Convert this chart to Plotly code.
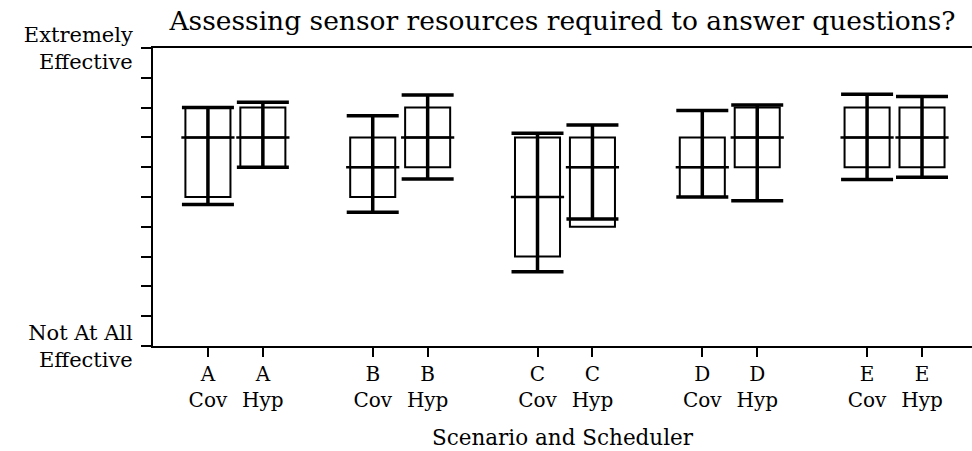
import plotly.graph_objects as go

# ---- data ----
positions = [1, 2, 4, 5, 7, 8, 10, 11, 13, 14]
tick_labels = ["A<br>Cov", "A<br>Hyp", "B<br>Cov", "B<br>Hyp", "C<br>Cov",
               "C<br>Hyp", "D<br>Cov", "D<br>Hyp", "E<br>Cov", "E<br>Hyp"]
q1 = [5, 6, 5, 6, 3, 4, 5, 6, 6, 6]
median = [7, 7, 6, 7, 5, 6, 6, 7, 7, 7]
q3 = [8, 8, 7, 8, 7, 7, 7, 8, 8, 8]
err_low = [4.75, 6.0, 4.49, 5.6, 2.49, 4.26, 5.0, 4.87, 5.59, 5.66]
err_high = [8.0, 8.18, 7.73, 8.42, 7.14, 7.42, 7.9, 8.09, 8.45, 8.37]

y_tickvals = list(range(0, 11))
y_ticktext = ["Not At All<br>Effective"] + [""] * 9 + ["Extremely<br>Effective"]

FONT = "DejaVu Serif"

fig = go.Figure()

# boxes (quartiles, no whiskers)
fig.add_trace(go.Box(
    x=positions, q1=q1, median=median, q3=q3,
    lowerfence=q1, upperfence=q3,
    width=0.82, whiskerwidth=0,
    line=dict(color="black", width=2),
    fillcolor="rgba(0,0,0,0)",
    boxpoints=False, showlegend=False, hoverinfo="skip",
))

# error bars (thick whiskers with caps)
centers = [(lo + hi) / 2 for lo, hi in zip(err_low, err_high)]
half = [(hi - lo) / 2 for lo, hi in zip(err_low, err_high)]
fig.add_trace(go.Scatter(
    x=positions, y=centers, mode="markers",
    marker=dict(size=1, color="rgba(0,0,0,0)"),
    error_y=dict(type="data", array=half, symmetric=True,
                 color="black", thickness=3.5, width=26),
    showlegend=False, hoverinfo="skip",
))

# median bars (as wide as the caps)
fig.add_trace(go.Scatter(
    x=positions, y=median, mode="markers",
    marker=dict(symbol="line-ew", size=38,
                line=dict(color="black", width=2.5)),
    showlegend=False, hoverinfo="skip",
))

fig.update_layout(
    width=972, height=451,
    margin=dict(l=153, r=0, t=48, b=105),
    paper_bgcolor="white", plot_bgcolor="white",
    font=dict(family=FONT, color="black", size=20),
    title=dict(text="Assessing sensor resources required to answer questions?",
               x=0.5, xref="paper", y=1 - 21 / 451, yref="container",
               xanchor="center", yanchor="middle",
               font=dict(family=FONT, size=26.5, color="black")),
    xaxis=dict(range=[0, 14.91], tickvals=positions, ticktext=tick_labels,
               ticks="outside", ticklen=9, tickwidth=2, tickcolor="black",
               showline=True, linewidth=2, linecolor="black", mirror=True,
               showgrid=False, zeroline=False,
               title=dict(text="Scenario and Scheduler", standoff=19,
                          font=dict(size=21.5)),
               tickfont=dict(size=20)),
    yaxis=dict(range=[0, 10], tickvals=y_tickvals, ticktext=y_ticktext,
               ticks="outside", ticklen=10, tickwidth=2, tickcolor="black",
               showline=True, linewidth=2, linecolor="black",
               showgrid=False, zeroline=False, ticklabelstandoff=4,
               tickfont=dict(size=21)),
)

fig.write_html("out.html",
               config={"displayModeBar": False},
               post_script="document.body.style.margin='0';"
                           "document.body.style.padding='0';")
